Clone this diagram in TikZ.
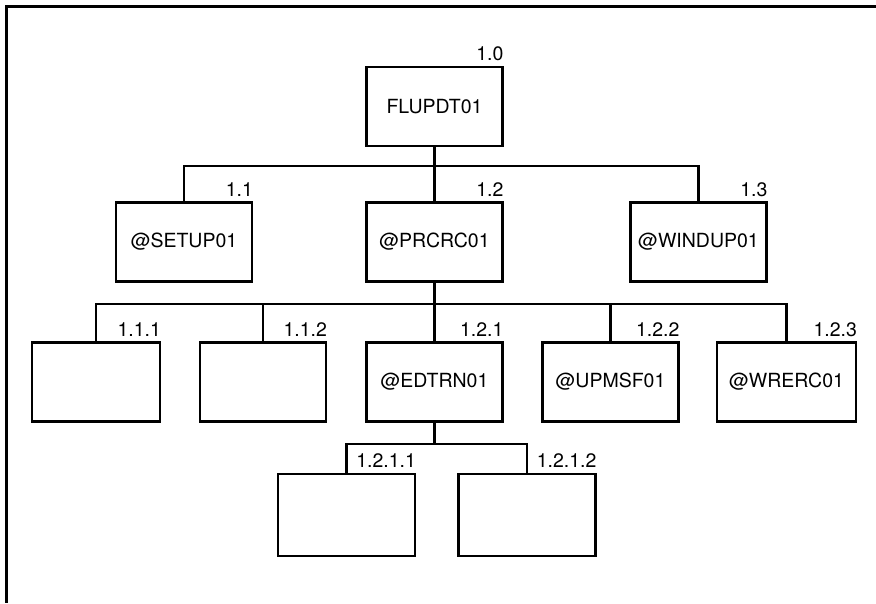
\documentclass[tikz,border=0pt]{standalone}
\usepackage{fontspec}
\setmainfont{TeX Gyre Heros}
\usetikzlibrary{positioning,calc}

\begin{document}
\begin{tikzpicture}[x=1pt, y=-1pt,
    module/.style={draw, line width=2.4pt, minimum width=136pt, minimum height=79pt, inner sep=0pt, font=\fontsize{19.5}{19.5}\selectfont},
    num/.style={inner sep=0pt, anchor=base east, font=\fontsize{19.5}{19.5}\selectfont},
    link/.style={line width=2.2pt},
]
\useasboundingbox (0,0) rectangle (876,603);
\draw[line width=3pt] (876,6) -- (6,6) -- (6,603);

% level 0
\node[module] (flupdt) at (434.5,106.5) {FLUPDT01};
\node[num] (flupdt-num) at ($(flupdt.north east)+(0,-5)$) {1.0};

% level 1
\foreach \id/\name/\x/\lab in {setup/@SETUP01/184/1.1, prcrc/@PRCRC01/434.5/1.2, windup/@WINDUP01/698.5/1.3} {
    \node[module] (\id) at (\x,242) {\name};
    \node[num] (\id-num) at ($(\id.north east)+(0,-5)$) {\lab};
    \draw[link] (flupdt.south) |- ($(\id.north)+(0,-35)$) -- (\id.north);
}

% level 2
\foreach \id/\name/\x/\w/\lab in {blank1/{}/96/128/1.1.1, blank2/{}/263/126/1.1.2, edtrn/@EDTRN01/434.5/136/1.2.1, upmsf/@UPMSF01/610.5/136/1.2.2, wrerc/@WRERC01/786.5/139/1.2.3} {
    \node[module, minimum width=\w pt] (\id) at (\x,382) {\name};
    \node[num] (\id-num) at ($(\id.north east)+(0,-5)$) {\lab};
    \draw[link] (prcrc.south) |- ($(\id.north)+(0,-37)$) -- (\id.north);
}

% level 3
\foreach \id/\x/\lab in {blank3/346.5/1.2.1.1, blank4/527/1.2.1.2} {
    \node[module, minimum width=137pt, minimum height=82pt] (\id) at (\x,515) {};
    \node[num] (\id-num) at ($(\id.north east)+(0,-5)$) {\lab};
    \draw[link] (edtrn.south) |- ($(\id.north)+(0,-29)$) -- (\id.north);
}
\end{tikzpicture}
\end{document}
